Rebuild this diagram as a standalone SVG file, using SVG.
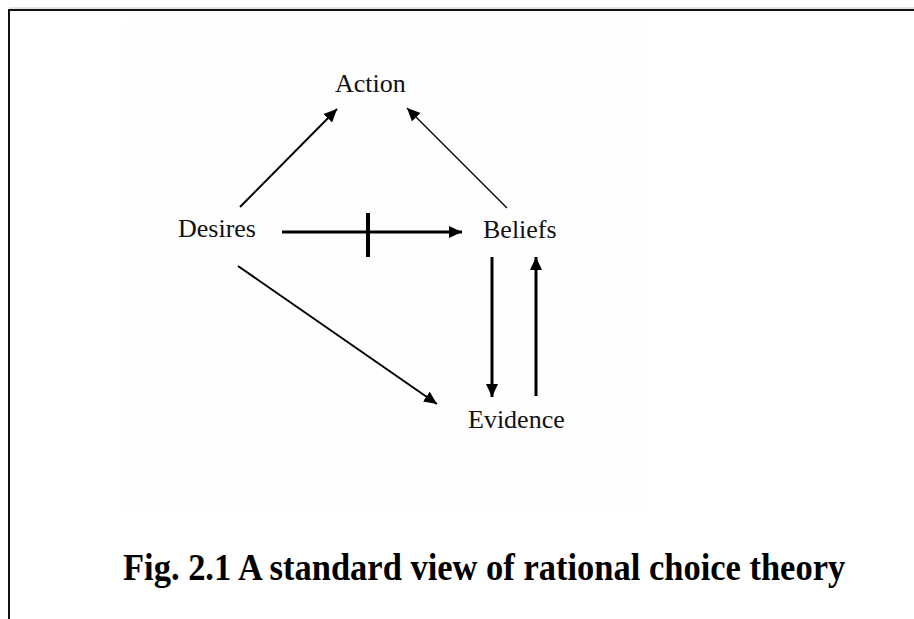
<svg xmlns="http://www.w3.org/2000/svg" width="914" height="619" viewBox="0 0 914 619">
<style>
.lbl{font-family:"Liberation Serif","Times New Roman",serif;font-size:26px;fill:#111}
.cap{font-family:"Liberation Serif","Times New Roman",serif;font-size:34.5px;font-weight:bold;fill:#000}
.c{stroke:#000;fill:none}
</style>
<defs>
<marker id="ah" markerUnits="userSpaceOnUse" markerWidth="14" markerHeight="12" refX="13" refY="6" orient="auto">
<path d="M0,0 L13,6 L0,12 Z" fill="#000"/>
</marker>
</defs>
<rect width="914" height="619" fill="#fff"/>
<rect x="123" y="20" width="525" height="493" fill="#fefefe"/>
<g id="frame">
<line x1="9" y1="8" x2="914" y2="8" stroke="#c8c8c8" stroke-width="1"/>
<line x1="9" y1="10" x2="914" y2="10" stroke="#111" stroke-width="2"/>
<line x1="9" y1="9" x2="9" y2="619" stroke="#111" stroke-width="2"/>
</g>
<g id="connectors">
<line class="c" x1="240" y1="207" x2="337" y2="109" stroke-width="2" marker-end="url(#ah)"/>
<line class="c" x1="507" y1="208" x2="407" y2="108" stroke-width="1.2" marker-end="url(#ah)"/>
<line class="c" x1="282" y1="232" x2="462" y2="232" stroke-width="3" marker-end="url(#ah)"/>
<line class="c" x1="368" y1="213" x2="368" y2="257" stroke-width="4"/>
<line class="c" x1="238" y1="266" x2="437" y2="404" stroke-width="2" marker-end="url(#ah)"/>
<line class="c" x1="492" y1="257" x2="492" y2="397" stroke-width="3" marker-end="url(#ah)"/>
<line class="c" x1="536" y1="396" x2="536" y2="257" stroke-width="3" marker-end="url(#ah)"/>
</g>
<g id="action"><text class="lbl" x="335" y="92">Action</text></g>
<g id="desires"><text class="lbl" x="178" y="237">Desires</text></g>
<g id="beliefs"><text class="lbl" x="483" y="238">Beliefs</text></g>
<g id="evidence"><text class="lbl" x="468" y="428">Evidence</text></g>
<g id="caption"><text class="cap" transform="translate(123,580) scale(1,1.1)" x="0" y="0">Fig. 2.1 A standard view of rational choice theory</text></g>
</svg>
